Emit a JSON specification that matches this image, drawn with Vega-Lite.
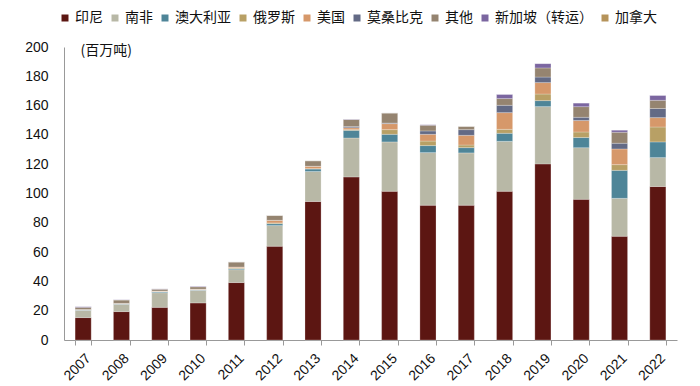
{
  "$schema": "https://vega.github.io/schema/vega-lite/v6.json",
  "width": 613,
  "height": 293,
  "autosize": {"type": "none"},
  "padding": {"left": 64, "top": 47, "right": 23, "bottom": 46},
  "background": "white",
  "config": {
    "view": {"stroke": null},
    "font": "Liberation Sans"
  },
  "data": {
    "values": [
      {"year": "2007", "src": "印尼", "v": 15.3}, {"year": "2007", "src": "南非", "v": 5.0}, {"year": "2007", "src": "澳大利亚", "v": 0.3}, {"year": "2007", "src": "俄罗斯", "v": 0}, {"year": "2007", "src": "美国", "v": 0.2}, {"year": "2007", "src": "莫桑比克", "v": 0}, {"year": "2007", "src": "其他", "v": 1.5}, {"year": "2007", "src": "新加坡（转运）", "v": 0.5}, {"year": "2007", "src": "加拿大", "v": 0},
      {"year": "2008", "src": "印尼", "v": 19.4}, {"year": "2008", "src": "南非", "v": 5.0}, {"year": "2008", "src": "澳大利亚", "v": 0.3}, {"year": "2008", "src": "俄罗斯", "v": 0.1}, {"year": "2008", "src": "美国", "v": 0.2}, {"year": "2008", "src": "莫桑比克", "v": 0}, {"year": "2008", "src": "其他", "v": 2.3}, {"year": "2008", "src": "新加坡（转运）", "v": 0.2}, {"year": "2008", "src": "加拿大", "v": 0},
      {"year": "2009", "src": "印尼", "v": 22.3}, {"year": "2009", "src": "南非", "v": 10.0}, {"year": "2009", "src": "澳大利亚", "v": 0.6}, {"year": "2009", "src": "俄罗斯", "v": 0.2}, {"year": "2009", "src": "美国", "v": 0.3}, {"year": "2009", "src": "莫桑比克", "v": 0}, {"year": "2009", "src": "其他", "v": 1.3}, {"year": "2009", "src": "新加坡（转运）", "v": 0.2}, {"year": "2009", "src": "加拿大", "v": 0},
      {"year": "2010", "src": "印尼", "v": 25.3}, {"year": "2010", "src": "南非", "v": 8.6}, {"year": "2010", "src": "澳大利亚", "v": 0.3}, {"year": "2010", "src": "俄罗斯", "v": 0.2}, {"year": "2010", "src": "美国", "v": 0.3}, {"year": "2010", "src": "莫桑比克", "v": 0}, {"year": "2010", "src": "其他", "v": 1.6}, {"year": "2010", "src": "新加坡（转运）", "v": 0.4}, {"year": "2010", "src": "加拿大", "v": 0},
      {"year": "2011", "src": "印尼", "v": 39.2}, {"year": "2011", "src": "南非", "v": 8.8}, {"year": "2011", "src": "澳大利亚", "v": 0.7}, {"year": "2011", "src": "俄罗斯", "v": 0.5}, {"year": "2011", "src": "美国", "v": 0.6}, {"year": "2011", "src": "莫桑比克", "v": 0}, {"year": "2011", "src": "其他", "v": 3.5}, {"year": "2011", "src": "新加坡（转运）", "v": 0}, {"year": "2011", "src": "加拿大", "v": 0},
      {"year": "2012", "src": "印尼", "v": 64.0}, {"year": "2012", "src": "南非", "v": 14.1}, {"year": "2012", "src": "澳大利亚", "v": 1.3}, {"year": "2012", "src": "俄罗斯", "v": 0.5}, {"year": "2012", "src": "美国", "v": 1.8}, {"year": "2012", "src": "莫桑比克", "v": 0}, {"year": "2012", "src": "其他", "v": 3.4}, {"year": "2012", "src": "新加坡（转运）", "v": 0}, {"year": "2012", "src": "加拿大", "v": 0},
      {"year": "2013", "src": "印尼", "v": 94.6}, {"year": "2013", "src": "南非", "v": 20.4}, {"year": "2013", "src": "澳大利亚", "v": 1.7}, {"year": "2013", "src": "俄罗斯", "v": 0.3}, {"year": "2013", "src": "美国", "v": 1.6}, {"year": "2013", "src": "莫桑比克", "v": 0}, {"year": "2013", "src": "其他", "v": 3.8}, {"year": "2013", "src": "新加坡（转运）", "v": 0}, {"year": "2013", "src": "加拿大", "v": 0},
      {"year": "2014", "src": "印尼", "v": 111.3}, {"year": "2014", "src": "南非", "v": 26.6}, {"year": "2014", "src": "澳大利亚", "v": 5.2}, {"year": "2014", "src": "俄罗斯", "v": 0.5}, {"year": "2014", "src": "美国", "v": 1.3}, {"year": "2014", "src": "莫桑比克", "v": 0.8}, {"year": "2014", "src": "其他", "v": 4.8}, {"year": "2014", "src": "新加坡（转运）", "v": 0.3}, {"year": "2014", "src": "加拿大", "v": 0},
      {"year": "2015", "src": "印尼", "v": 101.5}, {"year": "2015", "src": "南非", "v": 33.7}, {"year": "2015", "src": "澳大利亚", "v": 5.2}, {"year": "2015", "src": "俄罗斯", "v": 3.2}, {"year": "2015", "src": "美国", "v": 4.1}, {"year": "2015", "src": "莫桑比克", "v": 0.4}, {"year": "2015", "src": "其他", "v": 6.9}, {"year": "2015", "src": "新加坡（转运）", "v": 0}, {"year": "2015", "src": "加拿大", "v": 0},
      {"year": "2016", "src": "印尼", "v": 92.0}, {"year": "2016", "src": "南非", "v": 35.9}, {"year": "2016", "src": "澳大利亚", "v": 4.8}, {"year": "2016", "src": "俄罗斯", "v": 3.1}, {"year": "2016", "src": "美国", "v": 4.6}, {"year": "2016", "src": "莫桑比克", "v": 2.3}, {"year": "2016", "src": "其他", "v": 3.9}, {"year": "2016", "src": "新加坡（转运）", "v": 0.4}, {"year": "2016", "src": "加拿大", "v": 0},
      {"year": "2017", "src": "印尼", "v": 92.0}, {"year": "2017", "src": "南非", "v": 35.7}, {"year": "2017", "src": "澳大利亚", "v": 3.6}, {"year": "2017", "src": "俄罗斯", "v": 1.8}, {"year": "2017", "src": "美国", "v": 6.6}, {"year": "2017", "src": "莫桑比克", "v": 3.9}, {"year": "2017", "src": "其他", "v": 2.3}, {"year": "2017", "src": "新加坡（转运）", "v": 0}, {"year": "2017", "src": "加拿大", "v": 0},
      {"year": "2018", "src": "印尼", "v": 101.5}, {"year": "2018", "src": "南非", "v": 34.1}, {"year": "2018", "src": "澳大利亚", "v": 5.5}, {"year": "2018", "src": "俄罗斯", "v": 2.7}, {"year": "2018", "src": "美国", "v": 11.4}, {"year": "2018", "src": "莫桑比克", "v": 5.0}, {"year": "2018", "src": "其他", "v": 4.6}, {"year": "2018", "src": "新加坡（转运）", "v": 2.9}, {"year": "2018", "src": "加拿大", "v": 0},
      {"year": "2019", "src": "印尼", "v": 120.2}, {"year": "2019", "src": "南非", "v": 39.1}, {"year": "2019", "src": "澳大利亚", "v": 4.1}, {"year": "2019", "src": "俄罗斯", "v": 4.5}, {"year": "2019", "src": "美国", "v": 7.8}, {"year": "2019", "src": "莫桑比克", "v": 3.8}, {"year": "2019", "src": "其他", "v": 6.2}, {"year": "2019", "src": "新加坡（转运）", "v": 3.0}, {"year": "2019", "src": "加拿大", "v": 0},
      {"year": "2020", "src": "印尼", "v": 96.0}, {"year": "2020", "src": "南非", "v": 35.3}, {"year": "2020", "src": "澳大利亚", "v": 6.9}, {"year": "2020", "src": "俄罗斯", "v": 3.8}, {"year": "2020", "src": "美国", "v": 7.8}, {"year": "2020", "src": "莫桑比克", "v": 2.2}, {"year": "2020", "src": "其他", "v": 7.3}, {"year": "2020", "src": "新加坡（转运）", "v": 2.5}, {"year": "2020", "src": "加拿大", "v": 0},
      {"year": "2021", "src": "印尼", "v": 70.8}, {"year": "2021", "src": "南非", "v": 25.9}, {"year": "2021", "src": "澳大利亚", "v": 19.1}, {"year": "2021", "src": "俄罗斯", "v": 3.9}, {"year": "2021", "src": "美国", "v": 10.7}, {"year": "2021", "src": "莫桑比克", "v": 3.9}, {"year": "2021", "src": "其他", "v": 7.5}, {"year": "2021", "src": "新加坡（转运）", "v": 1.5}, {"year": "2021", "src": "加拿大", "v": 0},
      {"year": "2022", "src": "印尼", "v": 104.8}, {"year": "2022", "src": "南非", "v": 19.7}, {"year": "2022", "src": "澳大利亚", "v": 10.7}, {"year": "2022", "src": "俄罗斯", "v": 10.2}, {"year": "2022", "src": "美国", "v": 6.4}, {"year": "2022", "src": "莫桑比克", "v": 6.2}, {"year": "2022", "src": "其他", "v": 5.6}, {"year": "2022", "src": "新加坡（转运）", "v": 3.4}, {"year": "2022", "src": "加拿大", "v": 0}
    ]
  },
  "transform": [
    {"calculate": "indexof(['印尼', '南非', '澳大利亚', '俄罗斯', '美国', '莫桑比克', '其他', '新加坡（转运）', '加拿大'], datum.src)", "as": "ord"}
  ],
  "mark": {"type": "bar", "stroke": "#ffffff", "strokeWidth": 0.4, "strokeOpacity": 0.6},
  "encoding": {
    "x": {
      "field": "year", "type": "ordinal", "title": null,
      "scale": {"paddingInner": 0.58, "paddingOuter": 0.29},
      "axis": {
        "labelAngle": -45, "labelFontSize": 14, "labelColor": "#111111", "labelFont": "Liberation Sans",
        "tickBand": "extent", "tickSize": 5, "tickColor": "#999999", "domainColor": "#999999",
        "labelPadding": 6
      }
    },
    "y": {
      "field": "v", "type": "quantitative", "stack": "zero",
      "scale": {"domain": [0, 200], "nice": false},
      "axis": {
        "values": [0, 20, 40, 60, 80, 100, 120, 140, 160, 180, 200],
        "grid": false, "ticks": false, "labelFontSize": 14, "labelColor": "#111111", "labelFont": "Liberation Sans",
        "labelPadding": 16, "domainColor": "#999999",
        "title": "(百万吨)", "titleAngle": 0, "titleX": 16, "titleY": 3, "titleAlign": "left", "titleBaseline": "middle",
        "titleFont": "Noto Sans CJK SC", "titleFontSize": 14, "titleFontWeight": "normal", "titleColor": "#111111"
      }
    },
    "order": {"field": "ord", "type": "quantitative", "sort": "ascending"},
    "color": {
      "field": "src", "type": "nominal",
      "sort": ["印尼", "南非", "澳大利亚", "俄罗斯", "美国", "莫桑比克", "其他", "新加坡（转运）", "加拿大"],
      "scale": {
        "domain": ["印尼", "南非", "澳大利亚", "俄罗斯", "美国", "莫桑比克", "其他", "新加坡（转运）", "加拿大"],
        "range": ["#5C1612", "#B8B8A6", "#4E8598", "#B8A065", "#D6986A", "#636A85", "#958470", "#7B66A0", "#B5935A"]
      },
      "legend": {
        "title": null, "orient": "none", "direction": "horizontal", "columns": 9,
        "legendX": -6, "legendY": -36,
        "symbolType": "square", "symbolSize": 49, "symbolStrokeWidth": 0,
        "labelFont": "Noto Sans CJK SC", "labelFontSize": 14, "labelColor": "#111111",
        "labelOffset": 3, "columnPadding": 5
      }
    }
  }
}
